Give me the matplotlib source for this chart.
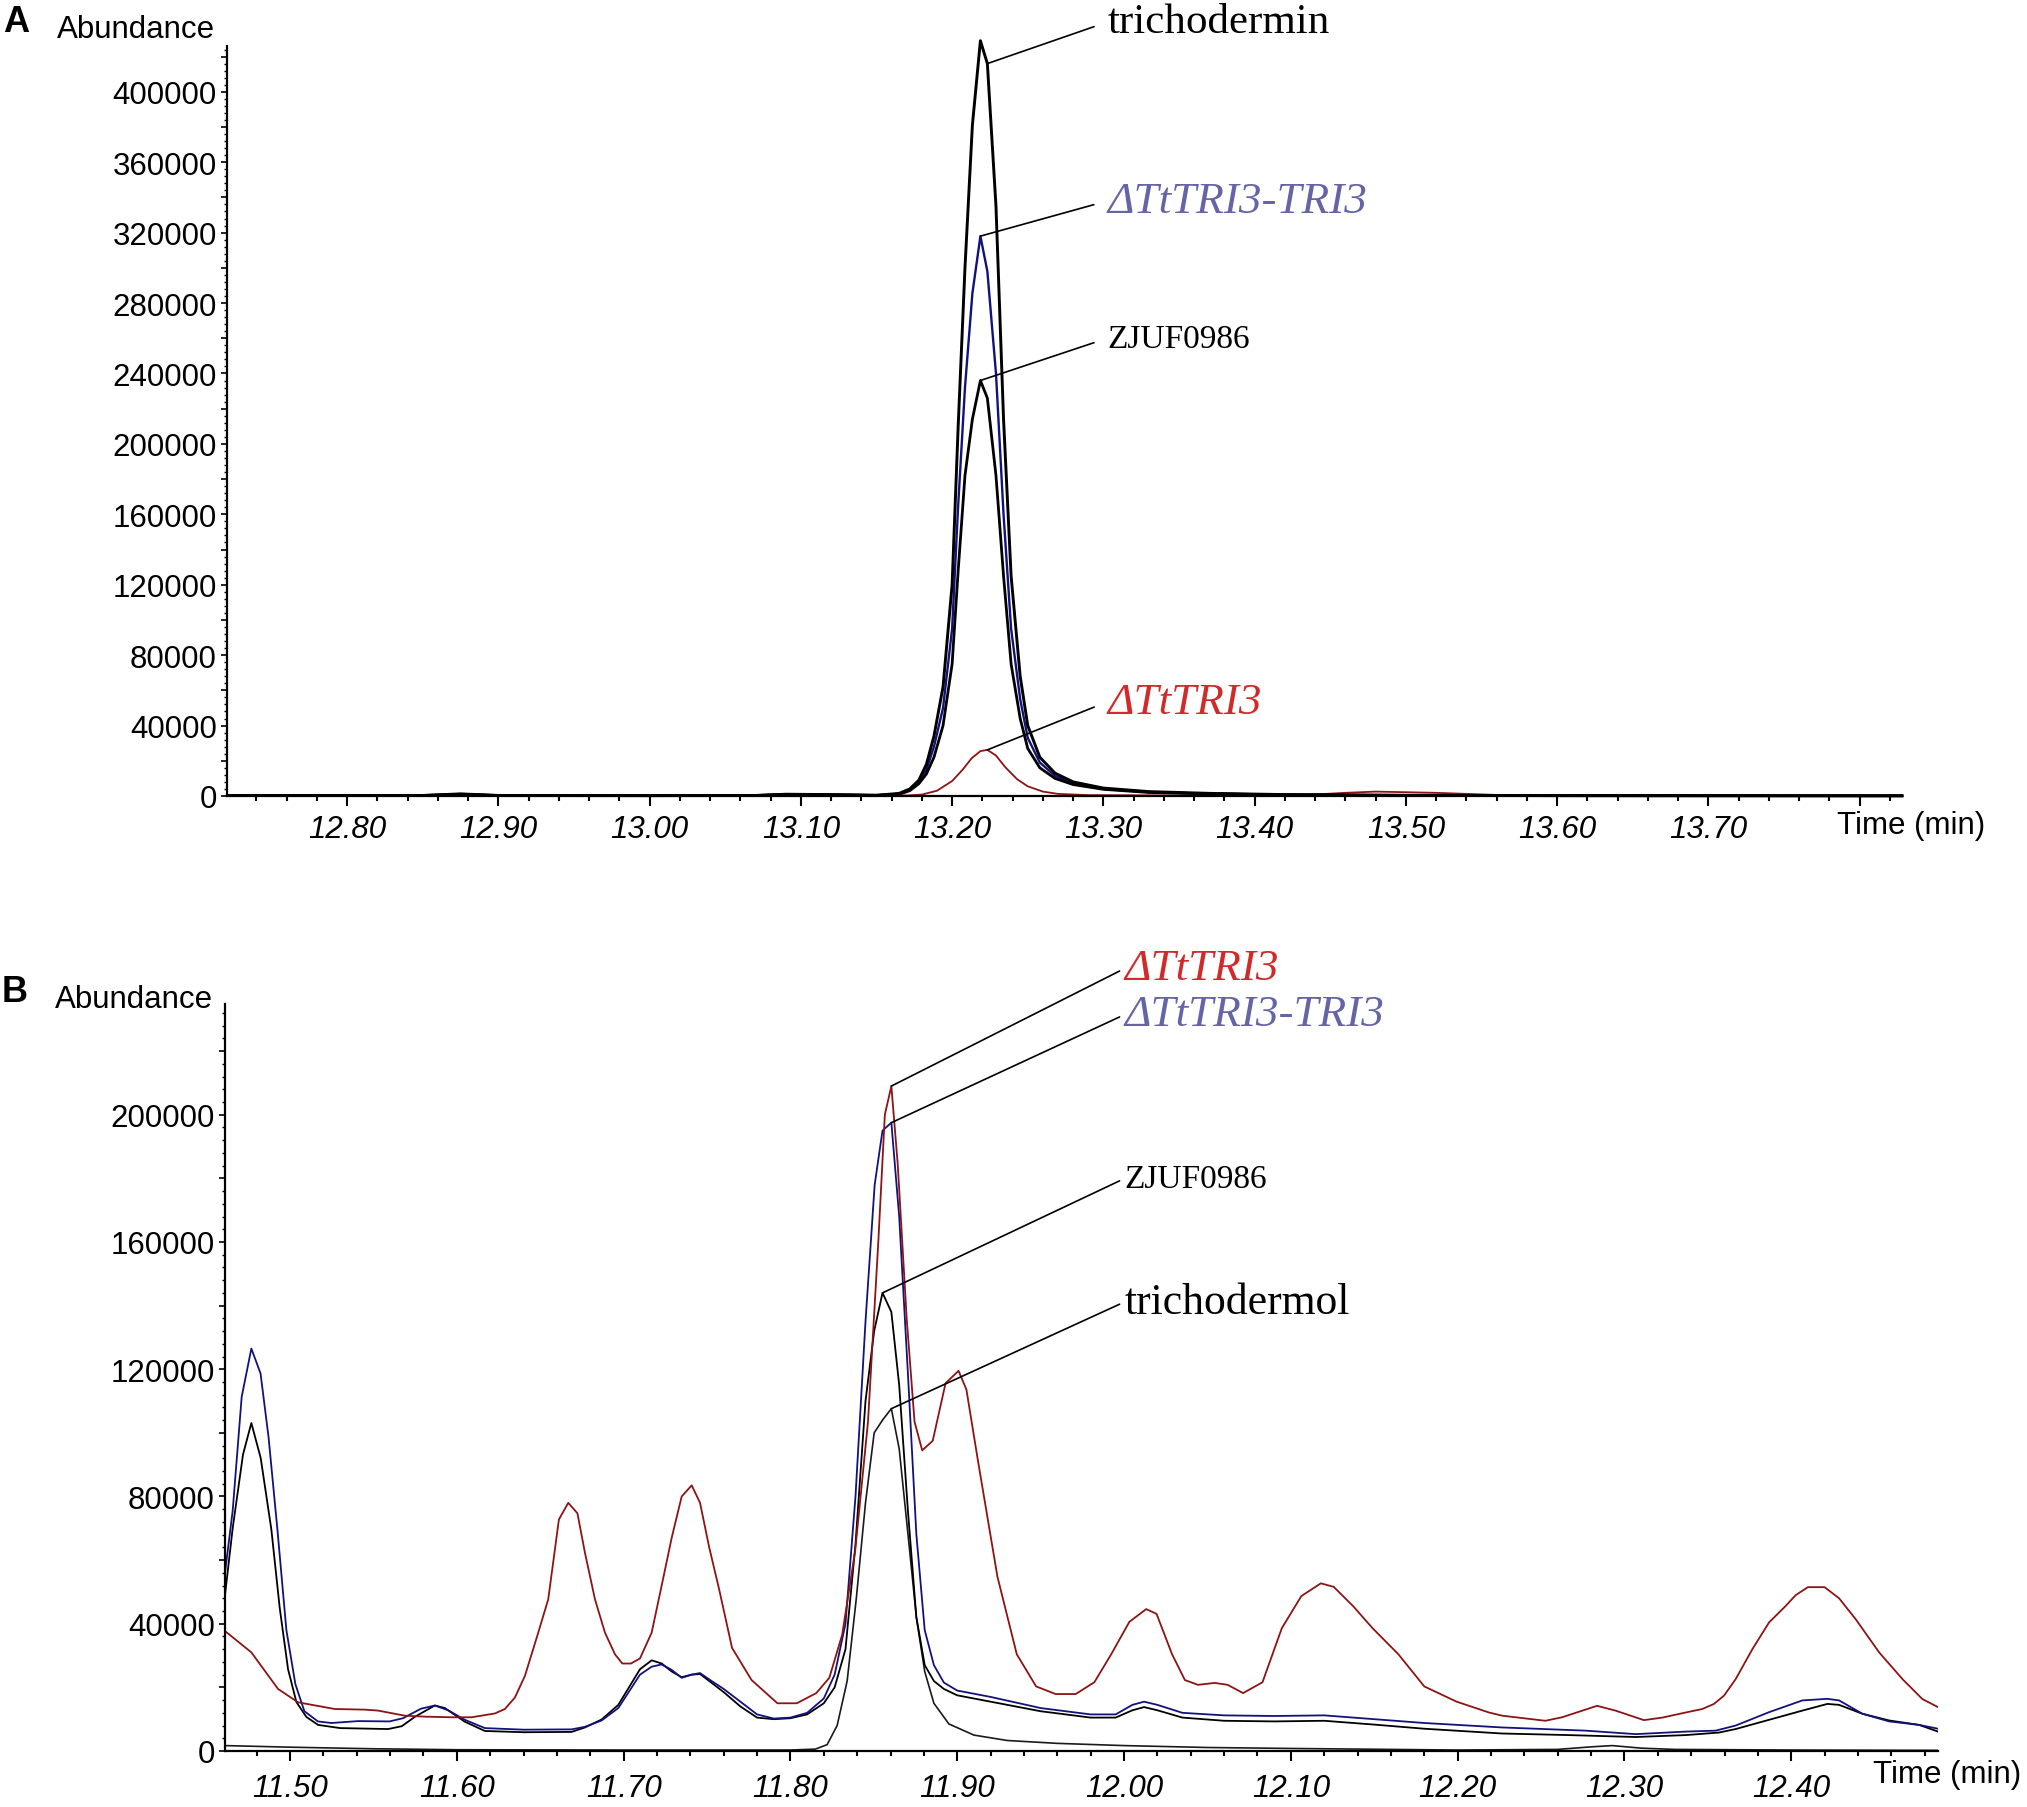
import numpy as np
import matplotlib
matplotlib.use("Agg")
import matplotlib.pyplot as plt
from matplotlib.ticker import MultipleLocator, FuncFormatter

plt.rcParams['font.family'] = ['Liberation Sans', 'DejaVu Sans']

# ---------------- panel A data (time in min, abundance) ----------------
a_tricho_t = [12.721, 12.85, 12.875, 12.90, 13.00, 13.07, 13.09, 13.12, 13.15, 13.165, 13.172, 13.178,
              13.183, 13.188, 13.194, 13.200, 13.204, 13.2085, 13.2134, 13.2187, 13.2233, 13.229, 13.234,
              13.239, 13.245, 13.250, 13.258, 13.268, 13.28, 13.30, 13.33, 13.37, 13.42, 13.50, 13.60, 13.828]
a_tricho_v = [300, 300, 1200, 300, 200, 300, 1000, 800, 400, 1500, 4000, 9000,
              18000, 34000, 62000, 120000, 210000, 300000, 381000, 429000, 416000, 335000, 214000,
              125000, 68000, 40000, 22000, 13000, 8000, 4500, 2500, 1500, 800, 400, 200, 100]

a_comp_t = a_tricho_t
a_comp_v = [300, 300, 1000, 300, 200, 300, 900, 700, 400, 1200, 3500, 8000,
            15000, 28000, 50000, 95000, 165000, 232000, 285500, 318000, 298000, 240000, 160000,
            95000, 55000, 33000, 19000, 11500, 7000, 4000, 2200, 1300, 700, 350, 200, 100]

a_wt_t = a_tricho_t
a_wt_v = [300, 300, 1000, 300, 200, 300, 900, 700, 400, 1000, 3000, 7000,
          12500, 22000, 40000, 75000, 128000, 182000, 214000, 236000, 226000, 182000, 125000,
          75000, 44000, 27000, 16000, 10000, 6500, 3800, 2000, 1200, 700, 350, 200, 100]

a_mut_t = [12.721, 12.90, 13.10, 13.17, 13.18, 13.19, 13.20, 13.207, 13.213, 13.2187, 13.2233, 13.229,
           13.235, 13.243, 13.25, 13.26, 13.27, 13.29, 13.35, 13.43, 13.46, 13.48, 13.52, 13.56, 13.828]
a_mut_v = [200, 200, 300, 300, 800, 3000, 8500, 15000, 21500, 25500, 26200, 23000,
           16500, 9500, 5500, 2500, 1200, 500, 300, 400, 1800, 2500, 1800, 600, 200]

# ---------------- panel B data ----------------
b_mut = [(11.461, 37700), (11.4768, 31000), (11.4928, 19500), (11.5048, 15300), (11.5268, 13200),
         (11.5448, 13000), (11.5528, 12700), (11.5688, 11100), (11.5808, 10800), (11.5968, 10600),
         (11.6088, 10600), (11.6228, 11800), (11.6288, 13200), (11.6348, 16800), (11.6408, 23600),
         (11.6488, 37200), (11.6548, 47700), (11.6612, 72800), (11.6668, 78000), (11.6723, 74700),
         (11.6768, 62300), (11.6828, 47700), (11.6888, 37200), (11.6948, 30400), (11.6992, 27500),
         (11.7044, 27500), (11.7098, 29100), (11.7168, 37200), (11.7228, 52000), (11.7288, 67000),
         (11.7348, 80000), (11.7408, 83500), (11.7458, 78000), (11.7513, 64000), (11.7573, 50700),
         (11.765, 32400), (11.7767, 22300), (11.7922, 15000), (11.8038, 15000), (11.8155, 18200),
         (11.8233, 23000), (11.831, 36500), (11.8388, 62900), (11.8465, 103500), (11.8527, 160200),
         (11.8566, 200000), (11.8605, 209000), (11.8643, 184600), (11.8697, 135900), (11.8744, 103500),
         (11.879, 94500), (11.8853, 97500), (11.893, 115600), (11.9008, 119500), (11.9055, 113600),
         (11.9124, 91300), (11.9241, 54800), (11.9357, 30400), (11.9473, 20300), (11.959, 17900),
         (11.971, 17900), (11.9822, 21600), (11.9923, 30400), (12.0032, 40600), (12.0133, 44600),
         (12.0195, 43100), (12.0288, 30400), (12.0365, 22300), (12.0443, 20800), (12.0544, 21400),
         (12.0621, 20800), (12.0714, 18200), (12.083, 21600), (12.0946, 38600), (12.1063, 48700),
         (12.118, 52700), (12.1257, 51600), (12.1374, 45500), (12.149, 38600), (12.1645, 30400),
         (12.18, 20300), (12.1994, 15500), (12.2188, 12100), (12.2267, 11100), (12.2526, 9500),
         (12.2626, 10600), (12.2836, 14200), (12.2946, 12700), (12.3117, 9700), (12.3227, 10500),
         (12.3367, 12100), (12.3467, 13200), (12.3537, 14800), (12.3597, 17400), (12.3667, 22600),
         (12.3767, 32000), (12.3867, 40400), (12.3967, 45600), (12.4027, 49000), (12.41, 51500),
         (12.42, 51500), (12.4287, 48000), (12.4387, 41400), (12.4527, 31000), (12.4667, 22600),
         (12.4787, 16300), (12.488, 13800)]

b_comp = [(11.461, 56000), (11.4656, 75500), (11.471, 111300), (11.4768, 126500), (11.4823, 118700),
          (11.4871, 98700), (11.4925, 69200), (11.4978, 38000), (11.5032, 21000), (11.5086, 12500),
          (11.5167, 9300), (11.5247, 8800), (11.5409, 9400), (11.5597, 9300), (11.5677, 10300),
          (11.5785, 13300), (11.5868, 14300), (11.5948, 12800), (11.6048, 9800), (11.6168, 7200),
          (11.64, 6700), (11.6688, 6800), (11.6768, 7600), (11.6868, 9600), (11.6968, 13500),
          (11.7098, 24000), (11.7168, 26500), (11.7228, 27200), (11.7288, 25500), (11.7348, 23000),
          (11.7408, 24000), (11.7458, 24500), (11.7513, 22500), (11.76, 19500), (11.77, 15500),
          (11.78, 11500), (11.79, 10200), (11.80, 10500), (11.81, 12000), (11.82, 16500),
          (11.8265, 24000), (11.833, 40000), (11.839, 80000), (11.845, 135000), (11.8505, 178000),
          (11.8552, 195000), (11.8605, 197500), (11.8652, 168000), (11.8705, 118000), (11.8755, 68000),
          (11.8805, 38000), (11.886, 27000), (11.892, 21500), (11.90, 19000), (11.92, 17000),
          (11.95, 13500), (11.98, 11500), (11.995, 11500), (12.005, 14500), (12.012, 15500),
          (12.02, 14500), (12.035, 12000), (12.06, 11200), (12.09, 11000), (12.12, 11200),
          (12.15, 10000), (12.18, 8800), (12.2267, 7400), (12.2767, 6400), (12.3067, 5300),
          (12.3367, 6100), (12.3547, 6400), (12.3667, 8000), (12.3867, 12200), (12.4067, 15900),
          (12.4217, 16400), (12.4287, 15900), (12.4427, 11700), (12.4587, 9300), (12.4767, 8200),
          (12.488, 7000)]

b_wt = [(11.461, 49000), (11.4656, 70000), (11.4718, 93200), (11.4768, 103100), (11.4824, 92100),
        (11.4888, 69600), (11.4938, 45000), (11.4988, 25700), (11.5038, 15400), (11.5098, 10700),
        (11.5168, 8200), (11.53, 7200), (11.5588, 6900), (11.567, 7800), (11.575, 10800),
        (11.5868, 14300), (11.5928, 13500), (11.6048, 9200), (11.6168, 6300), (11.64, 5900),
        (11.6688, 6000), (11.6768, 7400), (11.6868, 9900), (11.6968, 14500), (11.7098, 25700),
        (11.7168, 28500), (11.7228, 27500), (11.7288, 25000), (11.7348, 23200), (11.7408, 24000),
        (11.7458, 24200), (11.7513, 22000), (11.76, 18500), (11.77, 14000), (11.78, 10500),
        (11.79, 10000), (11.80, 10300), (11.81, 11500), (11.82, 15000), (11.8265, 20000),
        (11.833, 32000), (11.839, 65000), (11.845, 110000), (11.8502, 132000), (11.8552, 144000),
        (11.8605, 138000), (11.8652, 115000), (11.8705, 75000), (11.8755, 42000), (11.8805, 27000),
        (11.886, 22000), (11.892, 19500), (11.90, 17500), (11.92, 15500), (11.95, 12500),
        (11.98, 10500), (11.995, 10500), (12.005, 12800), (12.012, 13800), (12.02, 12800),
        (12.035, 10500), (12.06, 9500), (12.09, 9300), (12.12, 9500), (12.15, 8300),
        (12.18, 7000), (12.2267, 5500), (12.2667, 5000), (12.3067, 4400), (12.3367, 5000),
        (12.3567, 5800), (12.3667, 6900), (12.3867, 9800), (12.4067, 12700), (12.4217, 14800),
        (12.4287, 14500), (12.4427, 11700), (12.4587, 9600), (12.4767, 8200), (12.488, 6100)]

b_std = [(11.461, 1700), (11.50, 1200), (11.55, 700), (11.60, 400), (11.70, 300), (11.80, 300),
         (11.815, 600), (11.822, 2000), (11.828, 8000), (11.834, 22000), (11.8395, 48000),
         (11.845, 78000), (11.8502, 100000), (11.8552, 104000), (11.8605, 107600), (11.8652, 95000),
         (11.8705, 68000), (11.8755, 42000), (11.8805, 25000), (11.886, 15000), (11.895, 8500),
         (11.91, 5000), (11.93, 3300), (11.96, 2400), (12.00, 1700), (12.05, 1100), (12.10, 800),
         (12.20, 300), (12.26, 500), (12.28, 1300), (12.2927, 1700), (12.31, 900), (12.33, 500),
         (12.40, 300), (12.488, 200)]

a_xticks = [12.80, 12.90, 13.00, 13.10, 13.20, 13.30, 13.40, 13.50, 13.60, 13.70, 13.80]
a_xlabels = ['12.80', '12.90', '13.00', '13.10', '13.20', '13.30', '13.40', '13.50', '13.60', '13.70', '']
b_xticks = [11.50, 11.60, 11.70, 11.80, 11.90, 12.00, 12.10, 12.20, 12.30, 12.40]
b_xlabels = ['11.50', '11.60', '11.70', '11.80', '11.90', '12.00', '12.10', '12.20', '12.30', '12.40']

# label text, peak it points to (time, abundance), text position (time, abundance), colour, size
a_labels = [('trichodermin', (13.2233, 416000), (13.3026, 439600), 'black', 31, 'normal'),
            ('\u0394TtTRI3-TRI3', (13.2187, 318000), (13.3026, 338000), '#6464a6', 32.5, 'italic'),
            ('ZJUF0986', (13.2187, 236000), (13.3026, 260000), 'black', 24, 'normal'),
            ('\u0394TtTRI3', (13.2233, 26200), (13.3026, 53500), '#d02a2a', 32.5, 'italic')]
b_labels = [('\u0394TtTRI3', (11.8605, 209000), (12.0005, 246000), '#d02a2a', 32.5, 'italic'),
            ('\u0394TtTRI3-TRI3', (11.8605, 197500), (12.0005, 231500), '#6464a6', 32.5, 'italic'),
            ('ZJUF0986', (11.8552, 144000), (12.0005, 180000), 'black', 24, 'normal'),
            ('trichodermol', (11.8605, 107600), (12.0005, 141200), 'black', 31.5, 'normal')]

W, H = 2027, 1808
fig = plt.figure(figsize=(W / 100, H / 100), dpi=100)
axA = fig.add_axes([227 / W, 1 - 797 / H, (1902 - 227) / W, (797 - 47) / H])
axB = fig.add_axes([225 / W, 1 - 1752 / H, (1938 - 225) / W, (1752 - 1005) / H])


def yfmt(v, pos):
    iv = int(round(v))
    return str(iv) if iv % 40000 == 0 else ''


def style_axis(ax, xlim, ylim, xticks, xlabels, xpad):
    ax.set_xlim(*xlim)
    ax.set_ylim(*ylim)
    for s in ['top', 'right']:
        ax.spines[s].set_visible(False)
    for s in ['left', 'bottom']:
        ax.spines[s].set_linewidth(1.6)
    ax.set_xticks(xticks, xlabels)
    ax.xaxis.set_minor_locator(MultipleLocator(0.02))
    ax.yaxis.set_major_locator(MultipleLocator(20000))
    ax.yaxis.set_minor_locator(MultipleLocator(4000))
    ax.yaxis.set_major_formatter(FuncFormatter(yfmt))
    ax.tick_params(axis='x', which='major', length=7, width=1.5, pad=xpad, labelsize=22.5)
    ax.tick_params(axis='x', which='minor', length=3.6, width=1.5)
    ax.tick_params(axis='y', which='major', length=4.3, width=1.2, pad=3, labelsize=22.5)
    ax.tick_params(axis='y', which='minor', length=2.2, width=1.0)
    for lab in ax.get_xticklabels():
        lab.set_fontstyle('italic')


# panel A
axA.plot(a_mut_t, a_mut_v, color='#8c1414', lw=1.3, clip_on=False)
axA.plot(a_comp_t, a_comp_v, color='#12127e', lw=1.7, clip_on=False)
axA.plot(a_wt_t, a_wt_v, color='black', lw=2.0, clip_on=False)
axA.plot(a_tricho_t, a_tricho_v, color='black', lw=2.1, clip_on=False)
style_axis(axA, (12.7206, 13.828), (0, 426000), a_xticks, a_xlabels, 6)

# panel B
bs = np.array(b_std)
bw = np.array(b_wt)
bc = np.array(b_comp)
bm = np.array(b_mut)
axB.plot(bs[:, 0], bs[:, 1], color='#1a1a1a', lw=1.2)
axB.plot(bw[:, 0], bw[:, 1], color='black', lw=1.3)
axB.plot(bc[:, 0], bc[:, 1], color='#12127e', lw=1.3)
axB.plot(bm[:, 0], bm[:, 1], color='#8c1414', lw=1.3)
style_axis(axB, (11.461, 12.488), (0, 234800), b_xticks, b_xlabels, 9)

for ax, labels, shrink in [(axA, a_labels, 8), (axB, b_labels, 2)]:
    for txt, peak, pos, col, size, style in labels:
        ax.annotate(txt, xy=peak, xytext=pos, ha='left', va='center',
                    fontsize=size, fontstyle=style, color=col,
                    family=['Liberation Serif', 'DejaVu Serif'],
                    annotation_clip=False,
                    arrowprops=dict(arrowstyle='-', color='black', lw=1.2,
                                    shrinkA=shrink, shrinkB=0, relpos=(0, 0.5)))

# panel letters and axis captions
fig.text(3 / W, 1 - 22 / H, 'A', fontsize=26, fontweight='bold', ha='left', va='center')
fig.text(215 / W, 1 - 30 / H, 'Abundance', fontsize=22.5, ha='right', va='center')
fig.text(1837 / W, 1 - 826 / H, 'Time (min)', fontsize=22.5, ha='left', va='center')
fig.text(2 / W, 1 - 993 / H, 'B', fontsize=26, fontweight='bold', ha='left', va='center')
fig.text(213 / W, 1 - 1000 / H, 'Abundance', fontsize=22.5, ha='right', va='center')
fig.text(1873 / W, 1 - 1775 / H, 'Time (min)', fontsize=22.5, ha='left', va='center')

fig.savefig('out.png', dpi=100)
